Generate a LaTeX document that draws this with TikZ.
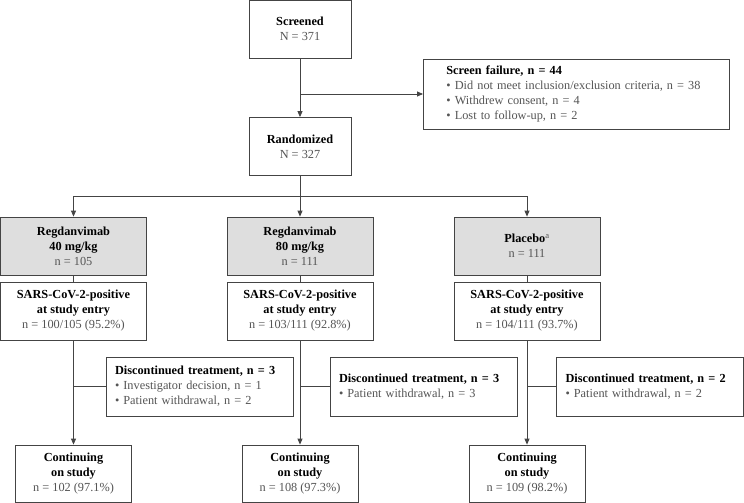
\documentclass[tikz,border=0pt]{standalone}
\usepackage{fontspec}
\setmainfont{Liberation Serif}
\usetikzlibrary{arrows.meta}
\definecolor{txtgray}{HTML}{555555}
\definecolor{boxgray}{HTML}{DEDEDE}
\definecolor{linegray}{HTML}{444444}
\tikzset{
  box/.style={draw=linegray, line width=0.8pt, fill=white, align=center, inner sep=2pt,
    font=\fontsize{12.3}{15}\selectfont},
  armbox/.style={box, fill=boxgray, minimum width=146pt, minimum height=58pt},
  sarsbox/.style={box, minimum width=146pt, minimum height=58pt},
  contbox/.style={box, minimum width=116pt, minimum height=57pt},
  topbox/.style={box, minimum width=102pt, minimum height=58pt},
  listbox/.style={box, align=left, inner xsep=9pt, inner ysep=4pt, text width=169pt,
    minimum height=59pt},
  conn/.style={draw=linegray, line width=0.8pt},
  arr/.style={conn, -{Triangle[length=6pt,width=5pt]}},
}
\newcommand{\gt}[1]{\textcolor{txtgray}{#1}}
\begin{document}
\begin{tikzpicture}[x=1pt,y=-1pt]
\useasboundingbox[fill=white] (0,0) rectangle (744,503);
% top
\node[topbox] (scr) at (300,29) {\textbf{Screened}\\\gt{N = 371}};
\node[topbox] (rand) at (300,146.5) {\textbf{Randomized}\\\gt{N = 327}};
\node[listbox, anchor=west, inner xsep=23pt, text width=260pt, minimum height=70pt] (fail) at (423,94)
  {\textbf{Screen failure, n = 44}\\
   \gt{\textbullet\ Did not meet inclusion/exclusion criteria, n = 38}\\
   \gt{\textbullet\ Withdrew consent, n = 4}\\
   \gt{\textbullet\ Lost to follow-up, n = 2}};
% arms
\node[armbox] (a1) at (73.5,246) {\textbf{Regdanvimab}\\\textbf{40 mg/kg}\\\gt{n = 105}};
\node[armbox] (a2) at (300,246) {\textbf{Regdanvimab}\\\textbf{80 mg/kg}\\\gt{n = 111}};
\node[armbox] (a3) at (527,246) {\textbf{Placebo}\gt{\textsuperscript{a}}\\\gt{n = 111}};
\node[sarsbox] (s1) at (73.5,311) {\textbf{SARS-CoV-2-positive}\\\textbf{at study entry}\\\gt{n = 100/105 (95.2\%)}};
\node[sarsbox] (s2) at (300,311) {\textbf{SARS-CoV-2-positive}\\\textbf{at study entry}\\\gt{n = 103/111 (92.8\%)}};
\node[sarsbox] (s3) at (527,311) {\textbf{SARS-CoV-2-positive}\\\textbf{at study entry}\\\gt{n = 104/111 (93.7\%)}};
% discontinued
\node[listbox, minimum width=187pt] (d1) at (199.5,386.5)
  {\textbf{Discontinued treatment, n = 3}\\
   \gt{\textbullet\ Investigator decision, n = 1}\\
   \gt{\textbullet\ Patient withdrawal, n = 2}};
\node[listbox, minimum width=187pt] (d2) at (423.5,386.5)
  {\textbf{Discontinued treatment, n = 3}\\
   \gt{\textbullet\ Patient withdrawal, n = 3}};
\node[listbox, minimum width=186pt] (d3) at (650,386.5)
  {\textbf{Discontinued treatment, n = 2}\\
   \gt{\textbullet\ Patient withdrawal, n = 2}};
% continuing
\node[contbox] (c1) at (73.5,473.5) {\textbf{Continuing}\\\textbf{on study}\\\gt{n = 102 (97.1\%)}};
\node[contbox] (c2) at (300,473.5) {\textbf{Continuing}\\\textbf{on study}\\\gt{n = 108 (97.3\%)}};
\node[contbox] (c3) at (527,473.5) {\textbf{Continuing}\\\textbf{on study}\\\gt{n = 109 (98.2\%)}};
% junctions
\coordinate (j0) at (300,94);
\coordinate (jl) at (73.5,196);
\coordinate (jm) at (300,196);
\coordinate (jr) at (527,196);
\coordinate (k1) at (73.5,386.5);
\coordinate (k2) at (300,386.5);
\coordinate (k3) at (527,386.5);
% connectors
\draw[arr] (scr.south) -- (rand.north);
\draw[arr] (j0) -- (fail.west);
\draw[conn] (rand.south) -- (jm);
\draw[conn] (jl) -- (jr);
\draw[arr] (jl) -- (a1.north);
\draw[arr] (jm) -- (a2.north);
\draw[arr] (jr) -- (a3.north);
\draw[conn] (a1.south) -- (s1.north);
\draw[conn] (a2.south) -- (s2.north);
\draw[conn] (a3.south) -- (s3.north);
\draw[arr] (s1.south) -- (c1.north);
\draw[arr] (s2.south) -- (c2.north);
\draw[arr] (s3.south) -- (c3.north);
\draw[conn] (k1) -- (d1.west);
\draw[conn] (k2) -- (d2.west);
\draw[conn] (k3) -- (d3.west);
\end{tikzpicture}
\end{document}
